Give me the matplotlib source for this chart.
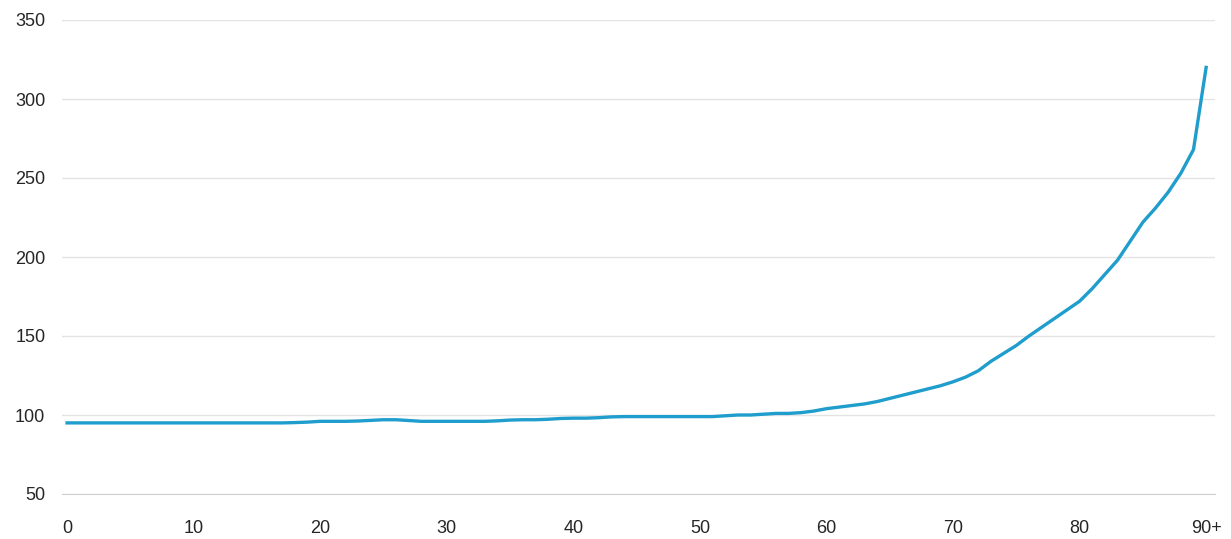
import matplotlib
matplotlib.use("Agg")
import matplotlib.pyplot as plt

# ── data ──────────────────────────────────────────────────────────────────────
ages = list(range(0, 91))
values = (
    [95] * 18 +
    [95.2, 95.5, 96, 96, 96, 96.2, 96.6, 97, 97, 96.5,      # 18-27
     96, 96, 96, 96, 96, 96, 96.3, 96.8, 97, 97,            # 28-37
     97.3, 97.8, 98, 98, 98.3, 98.8, 99, 99, 99, 99,        # 38-47
     99, 99, 99, 99, 99.5, 100, 100, 100.5, 101, 101,       # 48-57
     101.5, 102.5, 104, 105, 106, 107, 108.5, 110.5, 112.5, 114.5,  # 58-67
     116.5, 118.5, 121, 124, 128, 134, 139, 144, 150, 155.5,        # 68-77
     161, 166.5, 172, 180, 189, 198, 210, 222, 231, 241,            # 78-87
     253, 268, 320]                                                 # 88-90
)
xticks = [0, 10, 20, 30, 40, 50, 60, 70, 80, 90]
xtick_labels = ["0", "10", "20", "30", "40", "50", "60", "70", "80", "90+"]
yticks = [50, 100, 150, 200, 250, 300, 350]

plt.rcParams["font.family"] = ["Liberation Sans", "DejaVu Sans"]

fig = plt.figure(figsize=(12.31, 5.39), dpi=100)
ax = fig.add_axes([62 / 1231, 45 / 539, (1215 - 62) / 1231, (494 - 20) / 539])

ax.plot(ages, values, color="#1f9dcc", linewidth=2.4, solid_joinstyle="round")

ax.set_xlim(-0.4, 90.7)
ax.set_ylim(50, 350)
ax.set_xticks(xticks)
ax.set_xticklabels(xtick_labels)
ax.set_yticks(yticks)

ax.grid(axis="y", color="#e3e3e3", linewidth=1)
ax.set_axisbelow(True)
for s in ["top", "right", "left"]:
    ax.spines[s].set_visible(False)
ax.spines["bottom"].set_color("#d0d0d0")
ax.tick_params(axis="both", length=0, labelsize=13, colors="#262626")
ax.tick_params(axis="x", pad=19)
ax.tick_params(axis="y", pad=12)

fig.savefig("out.png", dpi=100, facecolor="white")
